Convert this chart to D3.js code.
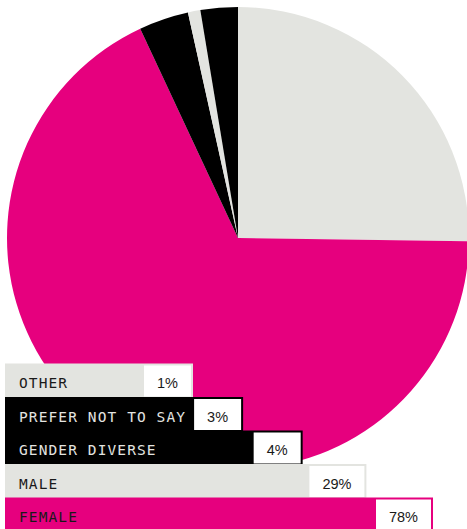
<!DOCTYPE html>
<html>
<head>
<meta charset="utf-8">
<script src="https://cdn.jsdelivr.net/npm/d3@7"></script>
<style>
  html, body { margin: 0; padding: 0; background: #fff; }
  svg { display: block; }
</style>
</head>
<body>
<svg id="chart" width="467" height="529"></svg>
<script>
// Data (pie order, clockwise from 12 o'clock)
const categories = ["MALE", "FEMALE", "GENDER DIVERSE", "OTHER", "PREFER NOT TO SAY"];
const values = [29, 78, 4, 1, 3];
const valueLabels = ["29%", "78%", "4%", "1%", "3%"];
const colors = ["#e3e4e0", "#e6007e", "#000000", "#e3e4e0", "#000000"];
const textColors = ["#1a1a1a", "#1a1a1a", "#e3e4e0", "#1a1a1a", "#e3e4e0"];

const W = 467, H = 529;
const svg = d3.select("#chart");

const data = categories.map((c, i) => ({
  cat: c, value: values[i], label: valueLabels[i],
  color: colors[i], text: textColors[i]
}));

// Pie
const cx = 238, cy = 238, R = 231;
const pie = d3.pie().sort(null).value(d => d.value);
const arc = d3.arc().innerRadius(0).outerRadius(R);
svg.append("g")
  .attr("transform", `translate(${cx},${cy})`)
  .selectAll("path")
  .data(pie(data))
  .join("path")
  .attr("d", arc)
  .attr("fill", d => d.data.color);

// Legend bars (sorted ascending)
const sorted = data.slice().sort((a, b) => a.value - b.value);
const y = d3.scaleBand()
  .domain(sorted.map(d => d.cat))
  .range([363.5, 363.5 + 33.5 * sorted.length])
  .paddingInner(0).paddingOuter(0);
const widthScale = d3.scalePow().exponent(1.13)
  .domain([0, sorted.length - 1])
  .range([188, 428]);
const x0 = 5;
const rowH = 34;

const rows = svg.append("g").selectAll("g")
  .data(sorted)
  .join("g")
  .attr("transform", d => `translate(${x0},${y(d.cat)})`);

rows.append("rect")
  .attr("x", 0).attr("y", 0)
  .attr("width", (d, i) => widthScale(i))
  .attr("height", rowH)
  .attr("fill", d => d.color);

rows.append("text")
  .attr("x", 14)
  .attr("y", 19.5)
  .attr("dominant-baseline", "central")
  .attr("font-family", "'DejaVu Sans Mono', 'Liberation Mono', monospace")
  .attr("font-size", 14.5)
  .attr("letter-spacing", 1.1)
  .attr("fill", d => d.text)
  .text(d => d.cat);

rows.each(function(d, i) {
  const g = d3.select(this);
  const bw = widthScale(i);
  const t = g.append("text")
    .attr("y", 19.5)
    .attr("dominant-baseline", "central")
    .attr("text-anchor", "middle")
    .attr("font-family", "'Liberation Sans', Arial, sans-serif")
    .attr("font-size", 14.5)
    .attr("fill", "#1a1a1a")
    .text(d.label);
  const tw = t.node().getComputedTextLength();
  const boxW = Math.round(tw + 26);
  g.insert("rect", "text:last-of-type")
    .attr("x", bw - 2 - boxW)
    .attr("y", 2)
    .attr("width", boxW)
    .attr("height", rowH - 3)
    .attr("fill", "#ffffff");
  t.attr("x", bw - 2 - boxW / 2);
});
</script>
</body>
</html>
